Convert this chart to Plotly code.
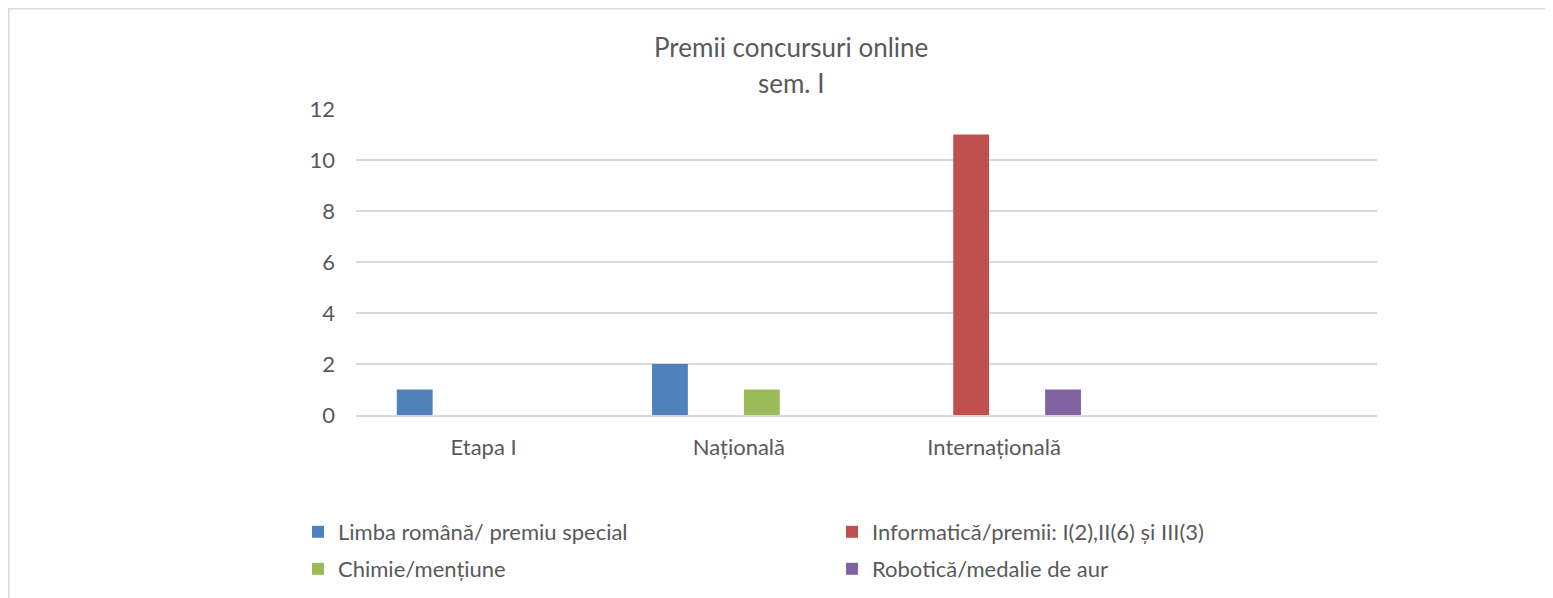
import plotly.graph_objects as go

categorii = ['Etapa I', 'Națională', 'Internațională']

limba_romana = [1, 2, 0]
informatica = [0, 0, 11]
chimie = [0, 1, 0]
robotica = [0, 0, 1]

nume_serii = ['Limba română/ premiu special',
              'Informatică/premii: I(2),II(6) și III(3)',
              'Chimie/mențiune',
              'Robotică/medalie de aur']

W, H = 1553, 598
OFF = 8  # page body margin shifts the figure by 8px
L, R, T, B = 356 - OFF, 1377 - OFF, 109 - OFF, 415 - OFF
pw, ph = R - L, B - T


def px(x):
    return (x - OFF - L) / pw


def py(y):
    return (B - (y - OFF)) / ph


text_col = '#595959'
grid_col = '#D9D9D9'
fnt = 'Lato'

fig = go.Figure()
fig.add_trace(go.Bar(x=categorii, y=limba_romana, name=nume_serii[0], marker_color='#4F81BD', legend='legend'))
fig.add_trace(go.Bar(x=categorii, y=informatica, name=nume_serii[1], marker_color='#C0504D', legend='legend'))
fig.add_trace(go.Bar(x=categorii, y=chimie, name=nume_serii[2], marker_color='#9BBB59', legend='legend2'))
fig.add_trace(go.Bar(x=categorii, y=robotica, name=nume_serii[3], marker_color='#8064A2', legend='legend2'))
fig.update_traces(marker_line_width=0)

leg = dict(orientation='h', x=px(298), xanchor='left', yanchor='middle',
           font=dict(family=fnt, size=22, color=text_col),
           entrywidth=489, entrywidthmode='pixels', bgcolor='rgba(0,0,0,0)')

fig.update_layout(
    width=W, height=H,
    margin=dict(l=L, r=W - R, t=T, b=H - B),
    paper_bgcolor='white', plot_bgcolor='white',
    barmode='group', bargap=0.28, bargroupgap=0.22,
    showlegend=True,
    legend=dict(leg, y=py(532)),
    legend2=dict(leg, y=py(569)),
    font=dict(family=fnt, color=text_col),
    xaxis=dict(type='category', range=[-0.5, 3.5], showgrid=False,
               showline=True, linecolor=grid_col, linewidth=1.5,
               ticks='', ticklabelstandoff=12,
               tickfont=dict(family=fnt, size=22, color=text_col)),
    yaxis=dict(range=[0, 12], dtick=2, showgrid=True, gridcolor=grid_col, gridwidth=1.5,
               zeroline=False, showline=False, ticks='', ticklabelstandoff=20,
               tickfont=dict(family=fnt, size=22, color=text_col)),
    annotations=[
        dict(text='Premii concursuri online', x=px(791), y=py(47), xref='paper', yref='paper',
             showarrow=False, xanchor='center', yanchor='middle',
             font=dict(family=fnt, size=26, color=text_col)),
        dict(text='sem. I', x=px(791), y=py(83), xref='paper', yref='paper',
             showarrow=False, xanchor='center', yanchor='middle',
             font=dict(family=fnt, size=26, color=text_col)),
    ],
    shapes=[dict(type='rect', xref='paper', yref='paper',
                 x0=px(8.75), y0=py(8.75), x1=px(W + 30), y1=py(H + 30),
                 line=dict(color=grid_col, width=1.5), layer='below')],
)

fig.write_html('out.html')
